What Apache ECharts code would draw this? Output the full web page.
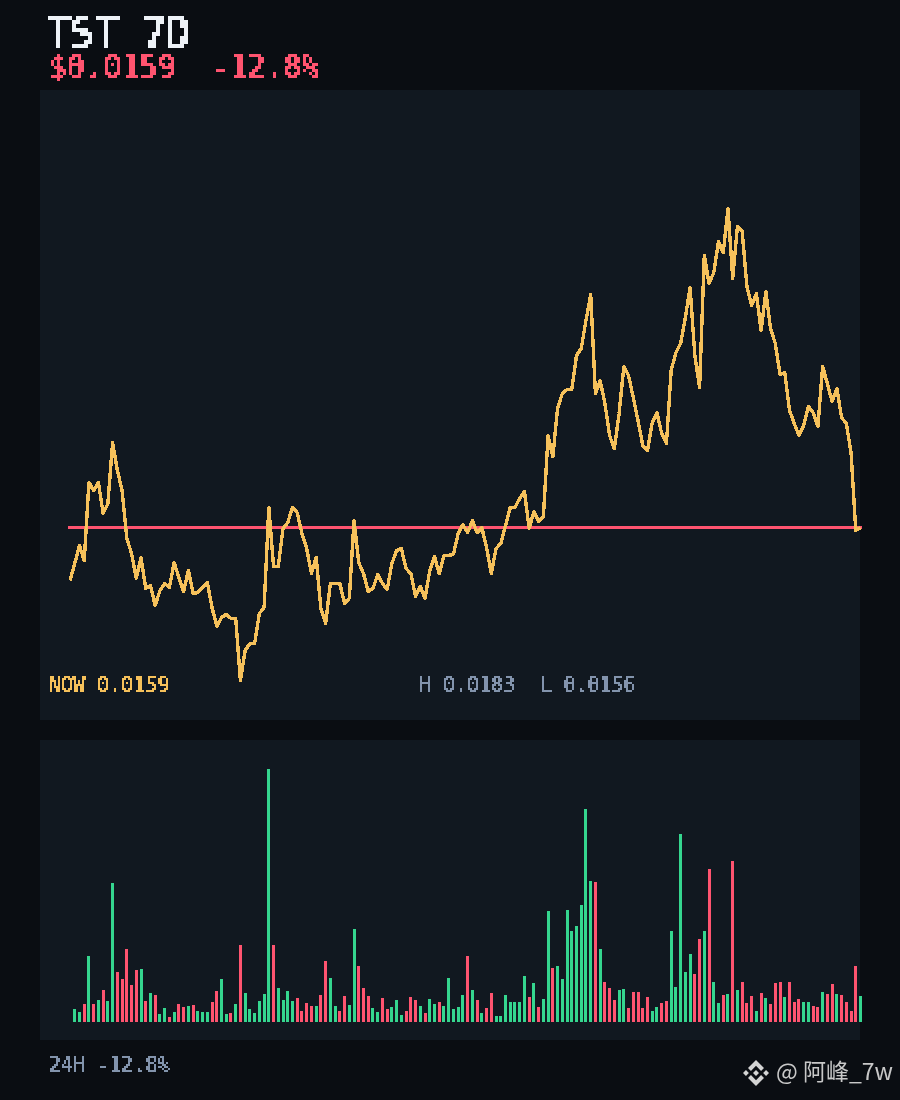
<!DOCTYPE html>
<html><head><meta charset="utf-8">
<style>
html,body{margin:0;padding:0;background:#0a0d12;width:900px;height:1100px;overflow:hidden}
.panel{position:absolute;background:#111820;left:40px;width:820px}
.layer{position:absolute;left:0;top:0;width:900px;height:1100px}
.crisp{filter:url(#th)}
.crispt{filter:url(#tt)}
.pix canvas{image-rendering:pixelated}
</style>
<script src="https://cdn.jsdelivr.net/npm/echarts@6/dist/echarts.min.js"></script>
</head><body>
<svg width="0" height="0" style="position:absolute"><filter id="th" color-interpolation-filters="sRGB" x="0" y="0" width="100%" height="100%"><feComponentTransfer><feFuncA type="discrete" tableValues="0 1"/></feComponentTransfer></filter>
<filter id="tt" color-interpolation-filters="sRGB" x="0" y="0" width="100%" height="100%"><feComponentTransfer><feFuncA type="discrete" tableValues="0 1 1"/></feComponentTransfer></filter></svg>
<div class="panel" style="top:90px;height:630px"></div>
<div class="panel" style="top:740px;height:300px"></div>
<div id="main" class="layer crisp"></div>
<div id="t4" class="layer crispt pix"></div>
<div id="t3" class="layer crispt pix"></div>
<div id="t2" class="layer crispt pix"></div>
<div id="wm" class="layer"></div>
<script>
// close price in millionths of a dollar, 168 hourly samples
const closeMicro=[15502,15630,15765,15652,16238,16178,16238,16005,16080,16538,16328,16178,15818,15705,15518,15675,15442,15465,15315,15428,15480,15450,15638,15525,15420,15578,15405,15412,15450,15488,15300,15158,15225,15248,15218,15218,14752,14978,15030,15030,15255,15300,16050,15608,15608,15892,15938,16050,16012,15855,15742,15555,15675,15292,15180,15480,15480,15480,15330,15368,15952,15638,15555,15420,15442,15548,15480,15435,15630,15728,15742,15592,15555,15382,15458,15368,15578,15682,15555,15690,15690,15698,15855,15922,15862,15952,15862,15900,15750,15555,15742,15780,15915,16050,16050,16118,16170,15892,16020,15945,15982,16590,16432,16792,16905,16935,16935,17190,17242,17452,17648,16905,17002,16830,16590,16492,16755,17108,17040,16875,16702,16515,16478,16688,16762,16605,16530,17078,17212,17280,17475,17700,17190,16950,17940,17730,17812,18045,17962,18292,17768,18158,18120,17708,17565,17655,17378,17670,17392,17280,17048,17062,16778,16680,16590,16665,16808,16762,16658,17108,16980,16845,16942,16725,16680,16462,15878,15900];
// volume per step (first sample has none); 1 = up, 0 = down
const volume=[13,10,18,66,18,22,32,21,139,50,43,73,37,52,53,21,29,27,8,14,5,10,18,15,16,17,11,10,10,20,31,43,8,9,18,77,29,13,9,21,28,253,77,34,22,31,21,24,11,19,16,16,27,61,44,
16,11,26,17,93,56,34,26,14,10,24,13,15,22,7,11,25,22,16,9,23,18,20,16,44,13,15,27,66,32,22,9,14,29,6,6,27,20,20,20,46,25,39,15,23,111,54,56,43,112,91,96,117,213,141,
140,73,40,34,22,32,33,14,30,30,14,25,11,15,19,21,91,35,188,50,68,48,83,91,153,40,19,27,28,161,32,40,19,26,11,29,24,18,39,40,25,40,20,23,20,20,16,15,30,28,38,28,27,20,11,56,26];
const volumeUp=[1,1,0,1,0,1,0,1,1,0,0,0,0,0,1,0,1,0,1,1,0,1,0,0,1,0,1,1,1,0,0,1,1,0,1,0,1,1,1,1,1,1,0,1,1,1,1,0,0,0,0,1,0,0,1,
1,0,0,1,1,0,0,0,1,1,0,0,1,1,1,0,0,0,1,0,1,1,0,1,1,1,1,1,0,1,0,1,0,0,1,1,1,1,1,1,1,0,1,0,1,1,0,1,1,1,1,1,1,1,1,
0,1,0,0,0,1,1,0,0,0,0,0,1,1,0,0,1,1,1,1,1,0,0,1,0,1,1,0,1,0,1,0,0,0,1,0,1,0,0,0,1,0,0,0,1,1,0,0,1,0,0,1,0,0,0,0,1];
const refPrice=0.0159;
const titleText='TST 7D', priceText='$0.0159  -12.8%', nowText='NOW 0.0159', rangeText='H 0.0183  L 0.0156', dayText='24H -12.8%', watermark='@ 阿峰_7w';
const COL={line:'#f6c15b',red:'#ff5470',green:'#35d68f',white:'#eef2f7',grey:'#8394ad'};
const MONO='"DejaVu Sans Mono", monospace';

const cats=closeMicro.map((_,i)=>String(i));
const main=echarts.init(document.getElementById('main'),null,{renderer:'canvas',devicePixelRatio:1});
main.setOption({
  animation:false,backgroundColor:'transparent',
  grid:[{left:70,top:90.5,width:790.5,height:630},{left:70,top:722,width:790.5,height:300}],
  xAxis:[{type:'category',data:cats,boundaryGap:false,show:false,gridIndex:0},{type:'category',data:cats,boundaryGap:false,show:false,gridIndex:1}],
  yAxis:[{type:'value',min:0.0144525,max:0.0191775,show:false,gridIndex:0},{type:'value',min:0,max:300,show:false,gridIndex:1}],
  series:[
    {type:'line',xAxisIndex:0,yAxisIndex:0,z:3,symbol:'none',showSymbol:false,data:closeMicro.map(()=>refPrice),
     lineStyle:{color:COL.red,width:3,cap:'square'}},
    {type:'line',xAxisIndex:0,yAxisIndex:0,z:5,symbol:'none',showSymbol:false,data:closeMicro.map(v=>v/1e6),
     lineStyle:{color:COL.line,width:3.4,join:'round',cap:'butt'}},
    {type:'bar',xAxisIndex:1,yAxisIndex:1,barWidth:3,data:[null].concat(volume.map((v,i)=>({value:v,itemStyle:{color:volumeUp[i]?COL.green:COL.red}})))}
  ]
});
function txt(id,dpr,items){
  const c=echarts.init(document.getElementById(id),null,{renderer:'canvas',devicePixelRatio:dpr});
  c.setOption({animation:false,backgroundColor:'transparent',graphic:items.map(t=>({type:'text',x:t[0],y:t[1],silent:true,style:{text:t[2],fill:t[3],font:t[4]+'px '+MONO,textAlign:'left',textVerticalAlign:'top'}}))});
}
txt('t4',0.25,[[46,18,titleText,COL.white,40]]);
txt('t3',1/3,[[49,55,priceText,COL.red,30]]);
txt('t2',0.5,[[49,676,nowText,COL.line,20],[419,676,rangeText,COL.grey,20],[49,1057,dayText,COL.grey,20]]);
const wm=echarts.init(document.getElementById('wm'),null,{renderer:'canvas',devicePixelRatio:1});
const logoParts=[[[63.3,0],[102.2,38.9],[87.9,53.2],[63.3,28.6],[38.7,53.2],[24.4,38.9]],[[63.3,126.6],[102.2,87.7],[87.9,73.4],[63.3,98],[38.7,73.4],[24.4,87.7]],[[0,63.3],[14.3,49],[28.6,63.3],[14.3,77.6]],[[98,63.3],[112.3,49],[126.6,63.3],[112.3,77.6]],[[63.3,48.8],[77.8,63.3],[63.3,77.8],[48.8,63.3]]];
wm.setOption({animation:false,backgroundColor:'transparent',graphic:logoParts.map(p=>({type:'polygon',silent:true,x:743,y:1060,scaleX:26/126.6,scaleY:26/126.6,shape:{points:p},style:{fill:'#d4d4d4'}})).concat([
 {type:'text',x:776,y:1060,silent:true,style:{text:watermark,fill:'#c8c8c8',font:'23px "Noto Sans CJK SC", sans-serif',textAlign:'left',textVerticalAlign:'top'}}
])});
</script></body></html>
